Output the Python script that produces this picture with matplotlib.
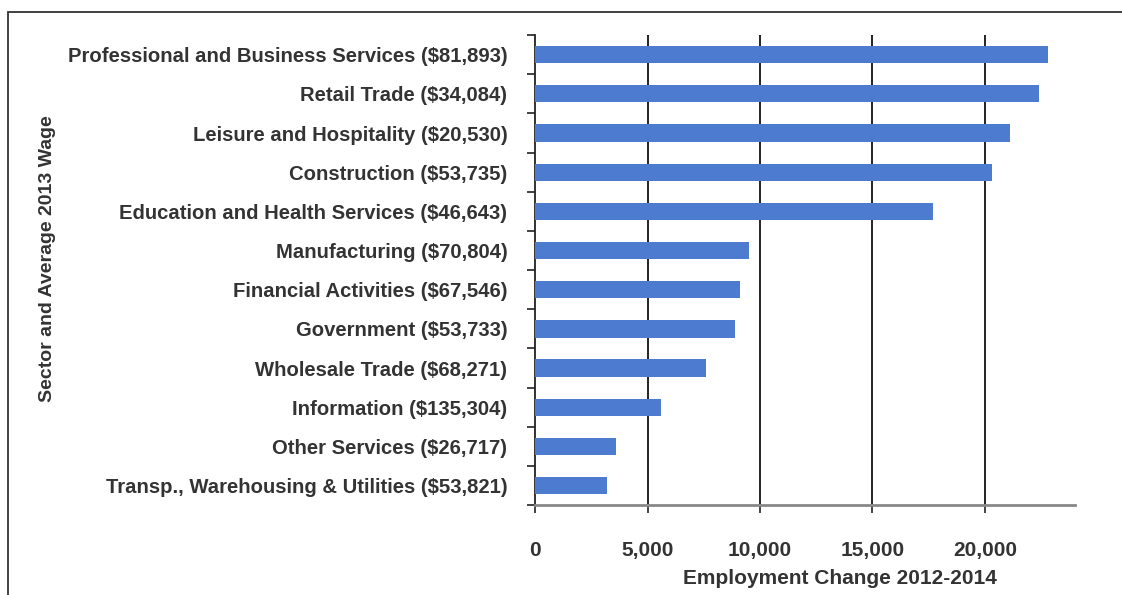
import numpy as np
import matplotlib.pyplot as plt
from matplotlib.patches import Rectangle
from matplotlib.ticker import FuncFormatter, FixedLocator

sectors = ["Professional and Business Services ($81,893)",
           "Retail Trade ($34,084)",
           "Leisure and Hospitality ($20,530)",
           "Construction ($53,735)",
           "Education and Health Services ($46,643)",
           "Manufacturing ($70,804)",
           "Financial Activities ($67,546)",
           "Government ($53,733)",
           "Wholesale Trade ($68,271)",
           "Information ($135,304)",
           "Other Services ($26,717)",
           "Transp., Warehousing & Utilities ($53,821)"]
change = [22800, 22400, 21100, 20300, 17700, 9500, 9100, 8900, 7600, 5600, 3600, 3200]

plt.rcParams['font.family'] = ['Liberation Sans Narrow', 'Liberation Sans', 'DejaVu Sans']
plt.rcParams['font.weight'] = 'bold'
txt = '#333333'

fig = plt.figure(figsize=(11.22, 5.95), dpi=100)
ax = fig.add_axes([0.477, 0.151, 0.481, 0.79])

n = len(sectors)
y = np.arange(n)[::-1]
ax.barh(y, change, height=0.44, color='#4c7bcf', zorder=3)

ax.set_xlim(0, 24000)
ax.set_ylim(-0.5, n - 0.5)
ax.xaxis.set_major_locator(FixedLocator([0, 5000, 10000, 15000, 20000]))
ax.xaxis.set_major_formatter(FuncFormatter(lambda v, p: f"{int(v):,}"))
for gx in [5000, 10000, 15000, 20000]:
    ax.axvline(gx, color='#111111', lw=1.3, zorder=1)

ax.set_yticks(y)
ax.set_yticklabels(sectors)
ax.set_yticks(np.arange(n + 1) - 0.5, minor=True)
ax.tick_params(axis='y', which='major', length=0, pad=20, labelsize=14.6, labelcolor=txt)
ax.tick_params(axis='y', which='minor', length=6, width=1.2, color='#222222')
ax.tick_params(axis='x', length=6, width=1.2, color='#222222', labelsize=15,
               labelcolor=txt, pad=20)

for s in ['top', 'right']:
    ax.spines[s].set_visible(False)
ax.spines['left'].set_color('#222222')
ax.spines['left'].set_linewidth(1.3)
ax.spines['bottom'].set_color('#888888')
ax.spines['bottom'].set_linewidth(2)

ax.set_xlabel("Employment Change 2012-2014", fontsize=15, fontweight='bold', color=txt)
ax.xaxis.set_label_coords(0.565, -0.135)
fig.text(0.042, 0.566, "Sector and Average 2013 Wage", rotation=90, fontsize=14,
         color=txt, ha='center', va='center')

# outer frame
fig.patches.append(Rectangle((0.007, -0.05), 1.1, 1.03, transform=fig.transFigure,
                             fill=False, edgecolor='#333333', lw=1.3))

fig.savefig("out.png", dpi=100)
